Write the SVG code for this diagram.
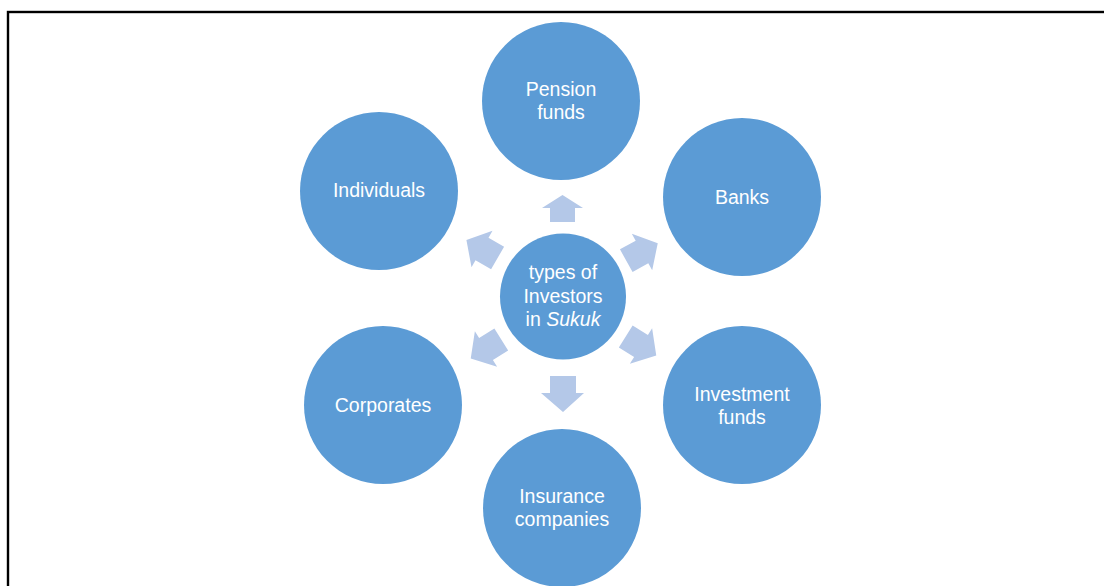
<svg xmlns="http://www.w3.org/2000/svg" width="1104" height="586" viewBox="0 0 1104 586">
<style>
.node{fill:#5b9bd5;}
.arr{fill:#b4c8e8;}
.t{font-family:"Liberation Sans",Arial,sans-serif;font-size:19.5px;fill:#ffffff;text-anchor:middle;}
</style>
<defs>
<path id="diag" d="M-18,-13 L0,-13 L0,-21 L18,0 L0,21 L0,13 L-18,13 Z"/>
</defs>
<rect width="1104" height="586" fill="#ffffff"/>
<rect x="8" y="12" width="1110" height="600" fill="none" stroke="#000000" stroke-width="2.4"/>
<g id="connectors">
<path class="arr" d="M550,222 L575,222 L575,208 L583,208 L562.5,195 L542,208 L550,208 Z"/>
<path class="arr" d="M550,376 L576,376 L576,393 L584,393 L563,412 L541,393 L550,393 Z"/>
<use href="#diag" class="arr" transform="translate(642,252) rotate(-29)"/>
<use href="#diag" class="arr" transform="translate(482,249) rotate(-150)"/>
<use href="#diag" class="arr" transform="translate(486,349) rotate(148)"/>
<use href="#diag" class="arr" transform="translate(641,346) rotate(32)"/>
</g>
<g id="center">
<circle class="node" cx="563" cy="296.5" r="63"/>
<text class="t" x="563" y="279">types of</text>
<text class="t" x="563" y="303">Investors</text>
<text class="t" x="563" y="326">in <tspan font-style="italic">Sukuk</tspan></text>
</g>
<g id="pension">
<circle class="node" cx="561" cy="101" r="79"/>
<text class="t" x="561" y="96">Pension</text>
<text class="t" x="561" y="119">funds</text>
</g>
<g id="banks">
<circle class="node" cx="742" cy="197" r="79"/>
<text class="t" x="742" y="204">Banks</text>
</g>
<g id="investment">
<circle class="node" cx="742" cy="405" r="79"/>
<text class="t" x="742" y="401">Investment</text>
<text class="t" x="742" y="424">funds</text>
</g>
<g id="insurance">
<circle class="node" cx="562" cy="508" r="79"/>
<text class="t" x="562" y="503">Insurance</text>
<text class="t" x="562" y="526">companies</text>
</g>
<g id="corporates">
<circle class="node" cx="383" cy="405" r="79"/>
<text class="t" x="383" y="412">Corporates</text>
</g>
<g id="individuals">
<circle class="node" cx="379" cy="191" r="79"/>
<text class="t" x="379" y="197">Individuals</text>
</g>
</svg>
